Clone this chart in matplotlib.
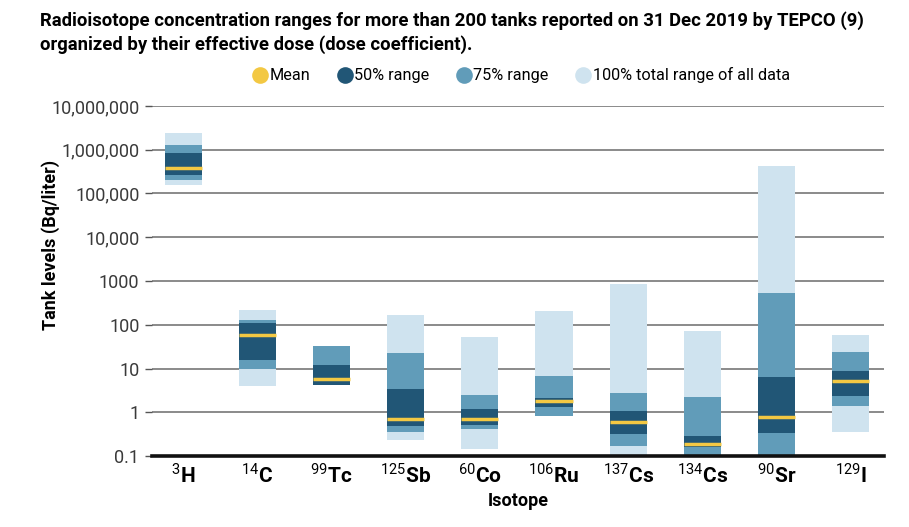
import matplotlib
matplotlib.use("Agg")
import matplotlib.pyplot as plt
from matplotlib.lines import Line2D

# isotopes ordered by dose coefficient
mass_numbers = ["3", "14", "99", "125", "60", "106", "137", "134", "90", "129"]
elements = ["H", "C", "Tc", "Sb", "Co", "Ru", "Cs", "Cs", "Sr", "I"]

# Bq/liter
full_lo = [157e3, 3.96, 4.3, 0.23, 0.147, 0.84, 0.1, 0.1, 0.1, 0.36]
full_hi = [2.46e6, 222, 32.5, 169, 52, 211, 851, 71.6, 417e3, 59]
p75_lo = [207e3, 10, 4.3, 0.345, 0.42, 0.84, 0.165, 0.1, 0.1, 1.41]
p75_hi = [1.25e6, 126, 32.5, 22.6, 2.47, 6.9, 2.8, 2.26, 525, 23.5]
p50_lo = [266e3, 15.7, 4.3, 0.48, 0.51, 1.32, 0.32, 0.157, 0.33, 2.35]
p50_hi = [830e3, 111, 12, 3.4, 1.19, 2.1, 1.07, 0.28, 6.45, 8.7]
mean_vals = [380e3, 59, 5.7, 0.72, 0.69, 1.78, 0.59, 0.19, 0.79, 5.1]

ytick_vals = [0.1, 1, 10, 100, 1000, 1e4, 1e5, 1e6, 1e7]
ytick_labels = ["0.1", "1", "10", "100", "1000", "10,000", "100,000", "1,000,000", "10,000,000"]

C_MEAN = "#f3c843"
C_50 = "#215676"
C_75 = "#619cb9"
C_100 = "#cfe3ef"

plt.rcParams["mathtext.fontset"] = "custom"
plt.rcParams["mathtext.rm"] = "Roboto"
plt.rcParams["mathtext.bf"] = "Roboto:bold"

fig = plt.figure(figsize=(9.09, 5.27), dpi=100)
ax = fig.add_axes([0.1672, 0.1347, 0.8053, 0.6642])

x = list(range(len(elements)))
w = 0.5

def draw_range(lo, hi, color, z):
    heights = [h - l for l, h in zip(lo, hi)]
    ax.bar(x, heights, bottom=lo, width=w, color=color, linewidth=0, zorder=z)

draw_range(full_lo, full_hi, C_100, 2)
draw_range(p75_lo, p75_hi, C_75, 3)
draw_range(p50_lo, p50_hi, C_50, 4)
ax.hlines(mean_vals, [i - w / 2 for i in x], [i + w / 2 for i in x],
          colors=C_MEAN, linewidth=2.5, zorder=5)

ax.set_yscale("log")
ax.set_ylim(0.1, 1e7)
ax.set_xlim(-0.42, 9.45)

for v in ytick_vals[1:]:
    ax.axhline(v, color="#6b6b6b", linewidth=1.1, zorder=1)

ax.set_yticks(ytick_vals)
ax.set_yticklabels(ytick_labels, fontfamily="Roboto", fontweight="normal",
                   fontsize=13, color="#3a3a3a")
ax.yaxis.set_minor_locator(matplotlib.ticker.NullLocator())
ax.tick_params(axis="y", length=5, width=1, color="#555555", pad=4)

ax.set_xticks(x)
ax.set_xticklabels([r"$^{%s}\mathbf{%s}$" % (m, e) for m, e in zip(mass_numbers, elements)],
                   fontsize=15)
ax.tick_params(axis="x", length=0, pad=5)

for s in ["top", "right", "left"]:
    ax.spines[s].set_visible(False)
ax.spines["bottom"].set_linewidth(2.6)
ax.spines["bottom"].set_color("#111111")
ax.spines["bottom"].set_zorder(6)

ax.set_xlabel("Isotope", fontfamily="Roboto", fontweight="bold", fontsize=13, labelpad=4)
fig.text(0.056, 0.535, "Tank levels (Bq/liter)", rotation=90, ha="center", va="center",
         fontfamily="Roboto", fontweight="bold", fontsize=13)

title = ("Radioisotope concentration ranges for more than 200 tanks reported on 31 Dec 2019 by TEPCO (9)\n"
         "organized by their effective dose (dose coefficient).")
fig.text(0.044, 0.978, title, ha="left", va="top", fontsize=13.3, fontweight="bold",
         fontfamily="Roboto", linespacing=1.3)

handles = [Line2D([], [], marker="o", linestyle="", markersize=12, color=c, markeredgewidth=0)
           for c in [C_MEAN, C_50, C_75, C_100]]
labels = ["Mean", "50% range", "75% range", "100% total range of all data"]
fig.legend(handles, labels, loc="center", bbox_to_anchor=(0.573, 0.857), ncol=4,
           frameon=False, handletextpad=0.1, columnspacing=1.6, handlelength=1.0,
           prop={"family": "Roboto", "size": 11.7})

fig.savefig("out.png", dpi=100)
